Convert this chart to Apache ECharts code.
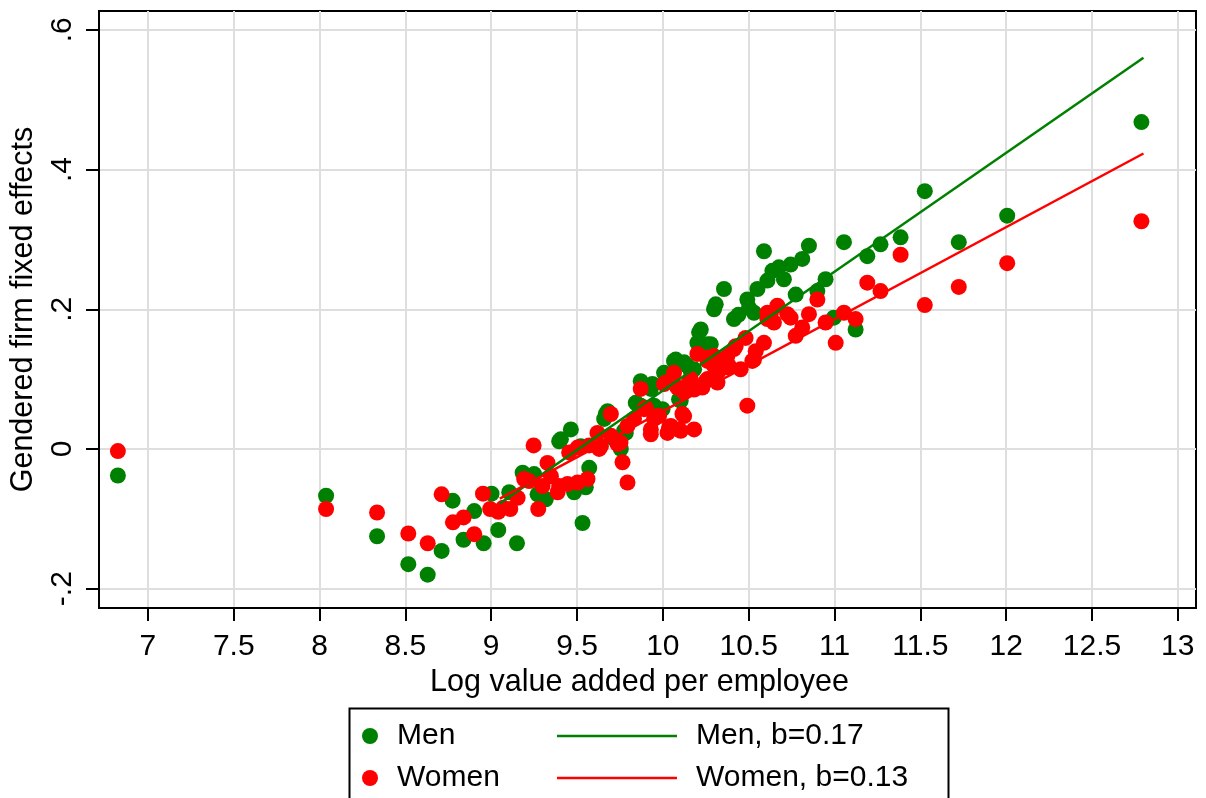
<!DOCTYPE html>
<html>
<head>
<meta charset="utf-8">
<title>Gendered firm fixed effects vs log value added</title>
<script src="https://cdn.jsdelivr.net/npm/echarts@6/dist/echarts.min.js"></script>
<style>
  html, body { margin: 0; padding: 0; background: #fff; }
  #chart { width: 1206px; height: 798px; }
</style>
</head>
<body>
<div id="chart"></div>
<script>
// Firm-level gendered fixed effects, binned by log value added per employee
const menX = [6.825, 8.038, 8.335, 8.517, 8.630, 8.711, 8.775, 8.839, 8.901, 8.956,
  9.002, 9.041, 9.105, 9.150, 9.183, 9.250, 9.270, 9.318, 9.396, 9.406,
  9.464, 9.483, 9.522, 9.532, 9.551, 9.571, 9.658, 9.668, 9.678, 9.716,
  9.755, 9.774, 9.784, 9.842, 9.852, 9.871, 9.871, 9.930, 9.939, 9.949,
  9.998, 10.007, 10.065, 10.075, 10.094, 10.104, 10.124, 10.143, 10.162, 10.182,
  10.201, 10.211, 10.221, 10.221, 10.260, 10.279, 10.298, 10.308, 10.356, 10.414,
  10.440, 10.492, 10.502, 10.531, 10.551, 10.589, 10.609, 10.638, 10.676, 10.705,
  10.744, 10.774, 10.812, 10.851, 10.900, 10.948, 10.996, 11.055, 11.123, 11.191,
  11.268, 11.385, 11.526, 11.724, 12.006, 12.788];
const menY = [-0.038, -0.067, -0.125, -0.165, -0.180, -0.146, -0.074, -0.130, -0.089, -0.135,
  -0.064, -0.116, -0.062, -0.135, -0.034, -0.036, -0.065, -0.072, 0.011, 0.014,
  0.028, -0.062, 0.004, -0.106, -0.055, -0.027, 0.043, 0.050, 0.054, 0.014,
  0.000, 0.026, 0.023, 0.066, 0.064, 0.097, 0.062, 0.086, 0.093, 0.062,
  0.057, 0.109, 0.126, 0.128, 0.071, 0.069, 0.124, 0.119, 0.112, 0.114,
  0.152, 0.167, 0.171, 0.150, 0.150, 0.150, 0.200, 0.207, 0.229, 0.186,
  0.192, 0.214, 0.202, 0.195, 0.229, 0.283, 0.241, 0.255, 0.260, 0.243,
  0.264, 0.221, 0.272, 0.291, 0.226, 0.243, 0.188, 0.296, 0.171, 0.276,
  0.293, 0.303, 0.369, 0.296, 0.334, 0.468];

const womenX = [6.825, 8.038, 8.335, 8.517, 8.630, 8.711, 8.777, 8.839, 8.901, 8.952,
  8.994, 9.041, 9.070, 9.111, 9.154, 9.192, 9.221, 9.247, 9.274, 9.299,
  9.328, 9.348, 9.387, 9.396, 9.445, 9.454, 9.503, 9.503, 9.561, 9.571,
  9.619, 9.629, 9.639, 9.697, 9.697, 9.736, 9.753, 9.765, 9.794, 9.794,
  9.832, 9.871, 9.891, 9.900, 9.930, 9.930, 9.949, 9.969, 9.978, 10.007,
  10.017, 10.027, 10.036, 10.046, 10.065, 10.085, 10.094, 10.104, 10.114, 10.124,
  10.124, 10.153, 10.162, 10.182, 10.182, 10.201, 10.230, 10.250, 10.260, 10.260,
  10.260, 10.298, 10.298, 10.318, 10.327, 10.337, 10.376, 10.376, 10.385, 10.414,
  10.424, 10.453, 10.482, 10.492, 10.521, 10.531, 10.541, 10.589, 10.609, 10.609,
  10.628, 10.647, 10.667, 10.725, 10.744, 10.774, 10.812, 10.851, 10.900, 10.948,
  11.007, 11.055, 11.123, 11.191, 11.268, 11.385, 11.526, 11.724, 12.006, 12.788];
const womenY = [-0.003, -0.086, -0.091, -0.121, -0.135, -0.065, -0.105, -0.098, -0.122, -0.064,
  -0.086, -0.090, -0.084, -0.086, -0.070, -0.043, -0.046, 0.005, -0.086, -0.053,
  -0.020, -0.039, -0.062, -0.053, -0.050, -0.005, 0.002, -0.048, -0.043, 0.005,
  0.023, 0.000, 0.004, 0.050, 0.019, 0.007, 0.009, -0.019, -0.048, 0.033,
  0.043, 0.086, 0.057, 0.059, 0.028, 0.021, 0.043, 0.047, 0.047, 0.093,
  0.095, 0.023, 0.031, 0.033, 0.109, 0.088, 0.028, 0.026, 0.050, 0.081,
  0.047, 0.098, 0.100, 0.085, 0.028, 0.136, 0.088, 0.097, 0.126, 0.131,
  0.100, 0.133, 0.119, 0.095, 0.112, 0.126, 0.133, 0.117, 0.119, 0.143,
  0.147, 0.114, 0.159, 0.062, 0.126, 0.128, 0.140, 0.152, 0.195, 0.186,
  0.193, 0.181, 0.205, 0.193, 0.188, 0.162, 0.174, 0.193, 0.214, 0.181,
  0.152, 0.195, 0.186, 0.238, 0.226, 0.278, 0.206, 0.232, 0.266, 0.326];

// Linear fit endpoints (slopes 0.17 and 0.13)
const menFitX = [9.05, 12.8];
const menFitY = [-0.078, 0.560];
const womenFitX = [9.05, 12.8];
const womenFitY = [-0.071, 0.423];

// Axis ticks and their labels
const xTickValues = [7, 7.5, 8, 8.5, 9, 9.5, 10, 10.5, 11, 11.5, 12, 12.5, 13];
const xTickLabels = ['7', '7.5', '8', '8.5', '9', '9.5', '10', '10.5', '11', '11.5', '12', '12.5', '13'];
const yTickValues = [-0.2, 0, 0.2, 0.4, 0.6];
const yTickLabels = ['-.2', '0', '.2', '.4', '.6'];

const seriesNames = ['Men', 'Women'];
const fitNames = ['Men, b=0.17', 'Women, b=0.13'];

const zip = (xs, ys) => xs.map((x, i) => [x, ys[i]]);
const labelFor = (values, labels) => (v) => {
  const i = values.findIndex(t => Math.abs(t - v) < 1e-9);
  return i >= 0 ? labels[i] : '';
};

const FONT = '"Liberation Sans", Arial, Helvetica, sans-serif';
const GREEN = '#008000';
const RED = '#ff0000';

const chart = echarts.init(document.getElementById('chart'), null, { renderer: 'canvas' });

chart.setOption({
  backgroundColor: '#ffffff',
  animation: false,
  textStyle: { fontFamily: FONT },
  grid: {
    left: 98, right: 10, top: 11, bottom: 190,
    show: true, borderColor: '#000', borderWidth: 2, backgroundColor: '#fff'
  },
  xAxis: {
    type: 'value',
    min: 6.715, max: 13.106,
    name: 'Log value added per employee',
    nameLocation: 'middle',
    nameGap: 45,
    nameTextStyle: { fontSize: 30.5, color: '#000', fontFamily: FONT, padding: [0, 16, 0, 0] },
    axisLine: { show: true, onZero: false, lineStyle: { color: '#000', width: 2 } },
    axisTick: { show: true, customValues: xTickValues, length: 13, lineStyle: { color: '#000', width: 2 } },
    axisLabel: {
      customValues: xTickValues,
      formatter: labelFor(xTickValues, xTickLabels),
      fontSize: 30, color: '#000', fontFamily: FONT, margin: 24
    },
    splitLine: { show: true, lineStyle: { color: '#dedede', width: 2 } }
  },
  yAxis: {
    type: 'value',
    min: -0.2277, max: 0.627,
    name: 'Gendered firm fixed effects',
    nameLocation: 'middle',
    nameGap: 60,
    nameTextStyle: { fontSize: 30.5, color: '#000', fontFamily: FONT },
    axisLine: { show: true, onZero: false, lineStyle: { color: '#000', width: 2 } },
    axisTick: { show: true, customValues: yTickValues, length: 13, lineStyle: { color: '#000', width: 2 } },
    axisLabel: {
      customValues: yTickValues,
      formatter: labelFor(yTickValues, yTickLabels),
      rotate: 90,
      fontSize: 30, color: '#000', fontFamily: FONT, margin: 21
    },
    splitLine: { show: true, lineStyle: { color: '#dedede', width: 2 } }
  },
  legend: [
    {
      data: seriesNames,
      orient: 'vertical',
      left: 362, top: 721,
      padding: 0,
      itemGap: 12,
      itemWidth: 40, itemHeight: 16,
      icon: 'circle',
      textStyle: { fontSize: 30, color: '#000', fontFamily: FONT, padding: [0, 0, 0, 2] },
      selectedMode: false
    },
    {
      data: fitNames,
      orient: 'vertical',
      left: 557, top: 721,
      padding: 0,
      itemGap: 12,
      itemWidth: 120, itemHeight: 2.5,
      icon: 'rect',
      textStyle: { fontSize: 30, color: '#000', fontFamily: FONT, padding: [0, 0, 0, 14] },
      selectedMode: false
    }
  ],
  graphic: [
    {
      type: 'rect',
      left: 347, top: 706,
      shape: { width: 599, height: 200 },
      style: { fill: null, stroke: '#000', lineWidth: 2 },
      silent: true,
      z: 10
    }
  ],
  series: [
    {
      name: seriesNames[0],
      type: 'scatter',
      data: zip(menX, menY),
      symbol: 'circle',
      symbolSize: 16,
      itemStyle: { color: GREEN, opacity: 1 }
    },
    {
      name: seriesNames[1],
      type: 'scatter',
      data: zip(womenX, womenY),
      symbol: 'circle',
      symbolSize: 16,
      itemStyle: { color: RED, opacity: 1 }
    },
    {
      name: fitNames[0],
      type: 'line',
      data: zip(menFitX, menFitY),
      symbol: 'none',
      lineStyle: { color: GREEN, width: 2.5 },
      itemStyle: { color: GREEN }
    },
    {
      name: fitNames[1],
      type: 'line',
      data: zip(womenFitX, womenFitY),
      symbol: 'none',
      lineStyle: { color: RED, width: 2.5 },
      itemStyle: { color: RED }
    }
  ]
});
</script>
</body>
</html>
